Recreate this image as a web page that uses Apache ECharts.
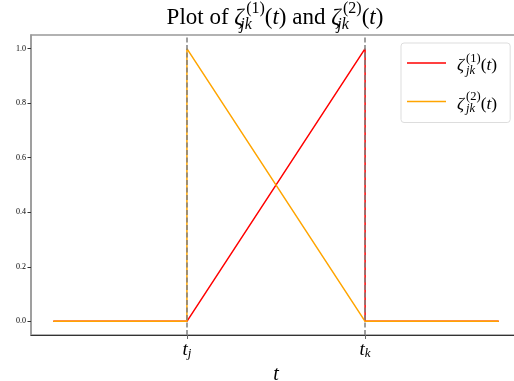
<!DOCTYPE html>
<html><head><meta charset="utf-8">
<script src="https://cdn.jsdelivr.net/npm/echarts@6/dist/echarts.min.js"></script>
<style>html,body{margin:0;padding:0;background:#fff}#c{width:514px;height:381px}</style>
</head><body><div id="c"></div>
<script>
// data
const tj = 3, tk = 7;
const zeta1 = [[0, 0], [3, 0], [7, 1], [7, 0], [10, 0]];
const zeta2 = [[0, 0], [3, 0], [3, 1], [7, 0], [10, 0]];
const yTicks = [0, 0.2, 0.4, 0.6, 0.8, 1.0];
const xTicks = [tj, tk];
const xTickLabels = {3: '{i|t}{s|j}', 7: '{i|t}{s|k}'};

const serif = 'Liberation Serif';
const chart = echarts.init(document.getElementById('c'));
const base = {fontFamily: serif, color: '#000', fontWeight: 'normal'};
const titleRich = {
  n: Object.assign({}, base, {fontSize: 23, lineHeight: 30, verticalAlign: 'middle'}),
  z: Object.assign({}, base, {fontSize: 23, fontStyle: 'italic', lineHeight: 30, verticalAlign: 'middle'}),
  g: Object.assign({}, base, {fontSize: 4, width: 2.5, lineHeight: 4}),
  sub: Object.assign({}, base, {fontSize: 16, fontStyle: 'italic', width: 0.001, align: 'left', lineHeight: 8, height: 16, verticalAlign: 'bottom'}),
  sup: Object.assign({}, base, {fontSize: 16, lineHeight: 8, height: 12, verticalAlign: 'top'})
};
const legendRich = {
  n: Object.assign({}, base, {fontSize: 17.5, lineHeight: 24, height: 19, verticalAlign: 'bottom'}),
  z: Object.assign({}, base, {fontSize: 17.5, fontStyle: 'italic', lineHeight: 24, height: 19, verticalAlign: 'bottom'}),
  g: Object.assign({}, base, {fontSize: 4, width: 2, lineHeight: 4}),
  sub: Object.assign({}, base, {fontSize: 12.5, fontStyle: 'italic', width: 0.001, align: 'left', lineHeight: 6, height: 9, verticalAlign: 'bottom'}),
  sup: Object.assign({}, base, {fontSize: 12.5, lineHeight: 6, height: 15, verticalAlign: 'top'})
};
const name1 = 'z1', name2 = 'z2';
const legendLabel = {z1: '{z|ζ}{g| }{sub|jk}{sup|(1)}{n|(}{z|t}{n|)}', z2: '{z|ζ}{g| }{sub|jk}{sup|(2)}{n|(}{z|t}{n|)}'};

chart.setOption({
  animation: false,
  title: {
    text: '{n|Plot of }{z|ζ}{g| }{sub|jk}{sup|(1)}{n|(}{z|t}{n|) and }{z|ζ}{g| }{sub|jk}{sup|(2)}{n|(}{z|t}{n|)}',
    left: 275, top: 3, textAlign: 'center', padding: 0,
    textStyle: {fontWeight: 'normal', rich: titleRich}
  },
  grid: {left: 31, top: 35, width: 490, height: 300, outerBoundsMode: 'none', containLabel: false,
    show: true, borderColor: '#999', borderWidth: 1.5, backgroundColor: 'transparent'},
  legend: {
    orient: 'vertical', left: 401, top: 43,
    padding: [8, 13, 7, 6], itemGap: 12.5,
    backgroundColor: '#fff', borderColor: '#ddd', borderWidth: 1, borderRadius: 3,
    icon: 'rect', itemWidth: 39, itemHeight: 1.5,
    data: [name1, name2],
    formatter: (n) => legendLabel[n],
    textStyle: {padding: [0, 0, 0, 6], rich: legendRich}
  },
  xAxis: {
    type: 'value', min: -0.5, max: 10.5,
    name: 't', nameLocation: 'middle', nameGap: 29,
    nameTextStyle: {fontFamily: serif, fontStyle: 'italic', fontSize: 20, color: '#000'},
    axisLine: {onZero: false, lineStyle: {color: '#333', width: 1}},
    axisTick: {customValues: xTicks, length: 4, lineStyle: {color: '#666'}},
    axisLabel: {customValues: xTicks, margin: 5, formatter: (v) => xTickLabels[v],
      rich: {i: {fontFamily: serif, fontStyle: 'italic', fontSize: 19, color: '#000', lineHeight: 20, verticalAlign: 'top'},
             s: {fontFamily: serif, fontStyle: 'italic', fontSize: 13, color: '#000', lineHeight: 12, verticalAlign: 'bottom'}}},
    splitLine: {show: false}
  },
  yAxis: {
    type: 'value', min: -0.05, max: 1.05,
    axisLine: {show: true, onZero: false, lineStyle: {color: '#999', width: 1.5}},
    axisTick: {customValues: yTicks, length: 3.5, lineStyle: {color: '#333'}},
    axisLabel: {customValues: yTicks, margin: 5, formatter: (v) => v.toFixed(1), fontFamily: serif, fontSize: 8, color: '#000'},
    splitLine: {show: false}
  },
  series: [
    {name: name1, type: 'line', data: zeta1, showSymbol: false, symbol: 'none', lineStyle: {color: '#ff0000', width: 1.5}, itemStyle: {color: '#ff0000'}},
    {name: name2, type: 'line', data: zeta2, showSymbol: false, symbol: 'none', lineStyle: {color: '#ffa500', width: 1.5}, itemStyle: {color: '#ffa500'}},
    {name: 'v', type: 'line', data: [], markLine: {silent: true, symbol: 'none', label: {show: false},
      lineStyle: {color: '#808080', type: [5, 2.5], width: 1.5},
      data: xTicks.map(x => ({xAxis: x}))}}
  ]
});
</script></body></html>
